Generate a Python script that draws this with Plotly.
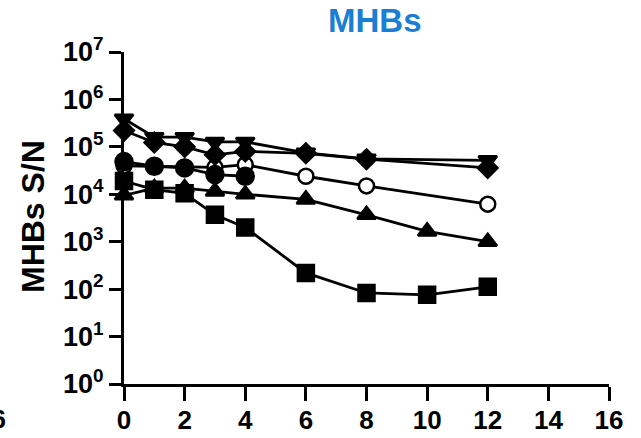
import plotly.graph_objects as go

# Data (days vs MHBs S/N)
x_tri_down = [0, 1, 2, 3, 4, 6, 8, 12]
y_tri_down = [3.9e5, 1.6e5, 1.6e5, 1.27e5, 1.27e5, 7.5e4, 5.6e4, 5.2e4]

x_diamond = [0, 1, 2, 3, 4, 6, 8, 12]
y_diamond = [2.2e5, 1.24e5, 1.0e5, 6.8e4, 8.0e4, 7.3e4, 5.5e4, 3.6e4]

x_circle_filled = [0, 1, 2, 3, 4]
y_circle_filled = [4.9e4, 3.9e4, 3.6e4, 2.6e4, 2.4e4]

x_circle_open = [0, 1, 2, 3, 4, 6, 8, 12]
y_circle_open = [4.0e4, 3.9e4, 3.7e4, 3.7e4, 4.2e4, 2.4e4, 1.5e4, 6.2e3]

x_tri_up = [0, 1, 2, 3, 4, 6, 8, 10, 12]
y_tri_up = [9.5e3, 1.35e4, 1.35e4, 1.15e4, 1.0e4, 7.8e3, 3.7e3, 1.65e3, 1.0e3]

x_square = [0, 1, 2, 3, 4, 6, 8, 10, 12]
y_square = [1.9e4, 1.25e4, 1.05e4, 3.7e3, 2.0e3, 2.2e2, 83, 76, 112]

x_ticks = [0, 2, 4, 6, 8, 10, 12, 14, 16]
y_tickvals = [1, 10, 100, 1e3, 1e4, 1e5, 1e6, 1e7]
y_ticktext = ["<b>10<sup>%d</sup></b>" % i for i in range(8)]

series = [
    (x_square, y_square, "square", "black", 16),
    (x_tri_up, y_tri_up, "triangle-up", "black", 16),
    (x_circle_open, y_circle_open, "circle", "white", 15),
    (x_circle_filled, y_circle_filled, "circle", "black", 17),
    (x_diamond, y_diamond, "diamond", "black", 15),
    (x_tri_down, y_tri_down, "triangle-down", "black", 16),
]

fig = go.Figure()
for xs, ys, sym, fill, sz in series:
    fig.add_trace(go.Scatter(
        x=xs, y=ys, mode="lines+markers",
        line=dict(color="black", width=2.8),
        marker=dict(symbol=sym, size=sz, color=fill,
                    line=dict(color="black", width=2.5)),
        cliponaxis=False, showlegend=False,
    ))

font_family = "Liberation Sans, Arial, sans-serif"

fig.update_layout(
    width=641, height=438,
    margin=dict(l=124, r=32, t=52, b=54, autoexpand=False),
    paper_bgcolor="white", plot_bgcolor="white",
    font=dict(family=font_family, color="black"),
    xaxis=dict(
        range=[0, 16], tickvals=x_ticks,
        ticktext=["<b>%d</b>" % v for v in x_ticks],
        ticks="outside", ticklen=14, tickwidth=3, tickcolor="black",
        showline=True, linewidth=3, linecolor="black",
        showgrid=False, zeroline=False, automargin=False,
        tickfont=dict(size=26, family=font_family),
        ticklabelstandoff=-3,
    ),
    yaxis=dict(
        type="log", range=[0, 7],
        tickvals=y_tickvals, ticktext=y_ticktext,
        ticks="outside", ticklen=12, tickwidth=3, tickcolor="black",
        showline=True, linewidth=3, linecolor="black",
        showgrid=False, zeroline=False, automargin=False,
        tickfont=dict(size=27, family=font_family),
        ticklabelstandoff=0,
    ),
    annotations=[
        dict(text="<b>MHBs</b>", xref="paper", yref="paper",
             x=(375 - 124) / 485, y=1 + 31 / 332, xanchor="center", yanchor="middle",
             showarrow=False, font=dict(size=33, color="#1a7fd4", family=font_family)),
        dict(text="<b>MHBs S/N</b>", xref="paper", yref="paper",
             x=(33 - 124) / 485, y=(384 - 217) / 332, xanchor="center", yanchor="middle",
             textangle=-90, showarrow=False,
             font=dict(size=32, color="black", family=font_family)),
        dict(text="<b>16</b>", xref="paper", yref="paper",
             x=(8 - 124) / 485, y=(384 - 419) / 332, xanchor="right", yanchor="middle",
             showarrow=False, font=dict(size=26, color="black", family=font_family)),
    ],
)

fig.write_html("out.html")
